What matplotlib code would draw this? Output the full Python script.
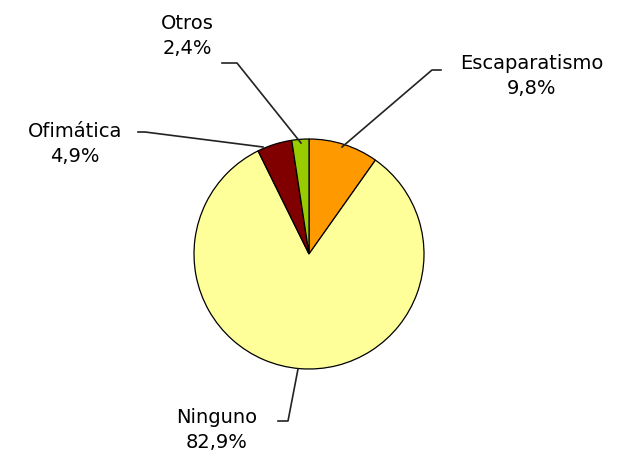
import matplotlib.pyplot as plt

# slice data, clockwise from 12 o'clock
labels = ["Escaparatismo", "Ninguno", "Ofimática", "Otros"]
values = [9.8, 82.9, 4.9, 2.4]
colors = ["#FF9900", "#FFFF99", "#800000", "#99CC00"]
pct_text = ["9,8%", "82,9%", "4,9%", "2,4%"]

W, H = 633, 462
fig = plt.figure(figsize=(W / 100, H / 100), dpi=100)
ax = fig.add_axes([0, 0, 1, 1])

cx, cy, r = 309, H - 254, 115
ax.pie(values, colors=colors, startangle=90, counterclock=False,
       center=(cx, cy), radius=r, frame=True,
       wedgeprops=dict(edgecolor="black", linewidth=0.9))
ax.set_xlim(0, W)
ax.set_ylim(0, H)
ax.set_aspect("equal")
ax.axis("off")

# label text centre and leader line points in pixel coords (y from top)
text_pos = [(532, 76), (217, 430), (75, 144), (187, 36)]
leaders = [
    [(342, 147), (432, 70), (441, 70)],
    [(298, 369), (288, 421), (278, 421)],
    [(263, 147), (145, 132), (138, 132)],
    [(301, 143), (237, 63), (222, 63)],
]

for lab, pct, (tx, ty), pts in zip(labels, pct_text, text_pos, leaders):
    xs = [p[0] for p in pts]
    ys = [H - p[1] for p in pts]
    ax.plot(xs, ys, color="#222222", lw=1.2)
    ax.text(tx, H - ty, lab + "\n" + pct, ha="center", va="center",
            multialignment="center", fontsize=14, linespacing=1.35,
            color="black", family="DejaVu Sans")

fig.savefig("out.png", dpi=100)
